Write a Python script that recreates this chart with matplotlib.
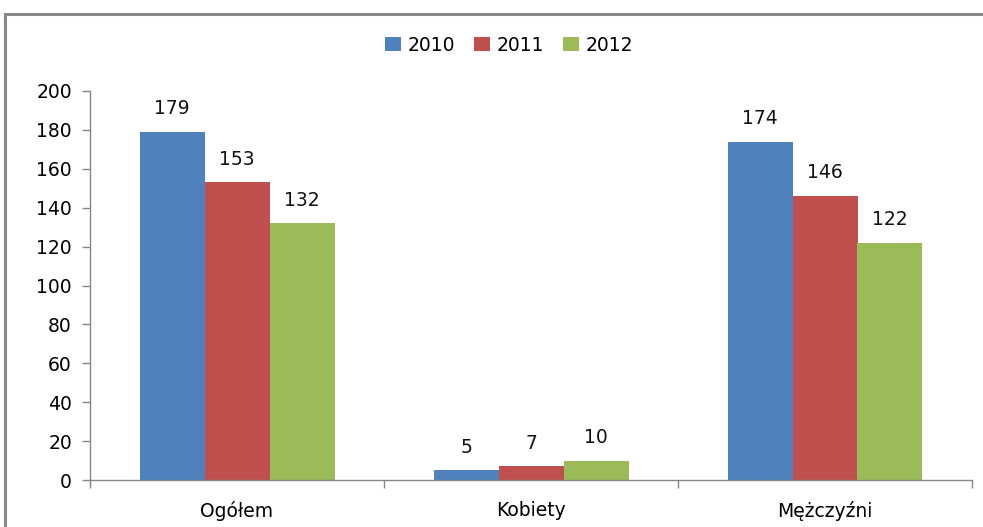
import numpy as np
import matplotlib
matplotlib.use("Agg")
import matplotlib.pyplot as plt
from matplotlib.patches import Rectangle

categories = ["Ogółem", "Kobiety", "Mężczyźni"]
years = ["2010", "2011", "2012"]
v2010 = [179, 5, 174]
v2011 = [153, 7, 146]
v2012 = [132, 10, 122]
colors = ["#4f81bd", "#c0504d", "#9bbb59"]

plt.rcParams["font.family"] = ["DejaVu Sans"]
fs = 13.5

fig = plt.figure(figsize=(9.83, 5.27), dpi=100)
ax = fig.add_axes([90 / 983, 47 / 527, 882 / 983, 389 / 527])

# outer chart frame (cut off at right and bottom like the screenshot)
fig.patches.append(Rectangle((5 / 983, -0.1), 1.2, 1.1 - 14 / 527,
                             transform=fig.transFigure, fill=False,
                             edgecolor="#888888", linewidth=2.2))

x = np.arange(len(categories))
w = 65 / 294
for i, (vals, c, lab) in enumerate(zip([v2010, v2011, v2012], colors, years)):
    bars = ax.bar(x + (i - 1) * w, vals, w, color=c, label=lab)
    for b, v in zip(bars, vals):
        ax.text(b.get_x() + b.get_width() / 2, v + 7, str(v),
                ha="center", va="bottom", fontsize=fs, color="#111111")

ax.set_xlim(-0.5, 2.5)
ax.set_ylim(0, 200)
ax.set_yticks(range(0, 201, 20))
ax.set_xticks(x)
ax.set_xticklabels(categories)
ax.set_xticks([-0.5, 0.5, 1.5, 2.5], minor=True)
ax.tick_params(axis="x", which="major", length=0, pad=15, labelsize=fs)
ax.tick_params(axis="x", which="minor", length=6, color="#868686", width=1)
ax.tick_params(axis="y", length=6, color="#868686", width=1, pad=7, labelsize=fs)

for s in ["top", "right"]:
    ax.spines[s].set_visible(False)
for s in ["left", "bottom"]:
    ax.spines[s].set_color("#868686")
    ax.spines[s].set_linewidth(1)

fig.legend(loc="center", bbox_to_anchor=(509 / 983, 1 - 45 / 527), ncol=3,
           frameon=False, fontsize=fs, handlelength=0.85, handleheight=0.85,
           handletextpad=0.35, columnspacing=1.0)

fig.savefig("out.png", dpi=100)
